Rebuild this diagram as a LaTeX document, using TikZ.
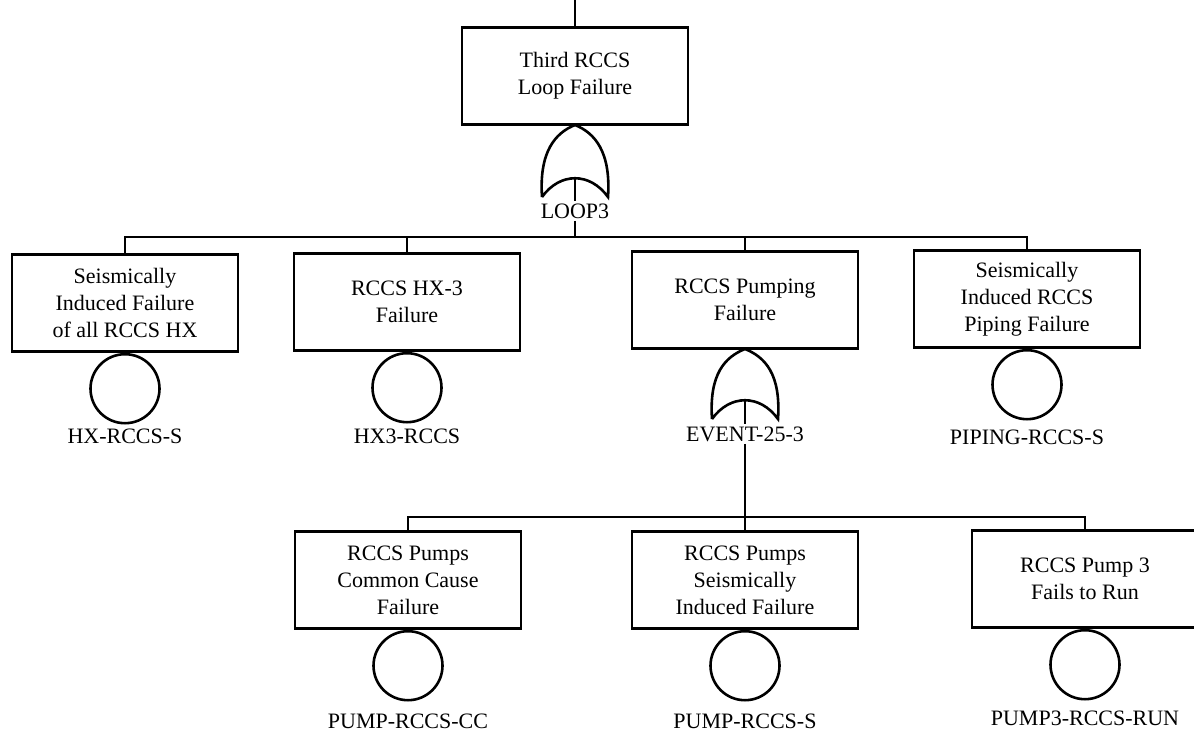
\documentclass[tikz,border=0pt]{standalone}
\usepackage{fontspec}
\setmainfont{Liberation Serif}
\begin{document}
\begin{tikzpicture}[x=1pt,y=-1pt,
  line width=2.8pt,
  evbox/.style={draw, rectangle, line width=2.8pt, minimum width=226pt, minimum height=97pt,
    align=center, font=\fontsize{22}{27}\selectfont, inner sep=0pt},
  basic/.style={draw, circle, line width=2.6pt, minimum size=69pt, inner sep=0pt},
  lbl/.style={font=\fontsize{22}{27}\selectfont, inner sep=1pt, fill=white},
  conn/.style={line width=2.8pt}
]
\useasboundingbox (0,0) rectangle (1194,735);
\clip (0,0) rectangle (1194,735);

% OR gate: apex at (#1,#2), height #3, half width 33
\newcommand{\orgate}[3]{%
  \draw[line width=2.6pt, fill=white] (#1-33,#2+#3) .. controls (#1-36,#2+#3-45) and (#1-20,#2+8) .. (#1,#2)
     .. controls (#1+20,#2+8) and (#1+36,#2+#3-45) .. (#1+33,#2+#3)
     .. controls (#1+15,#2+#3-25) and (#1-15,#2+#3-25) .. (#1-33,#2+#3);
}

% top event
\coordinate (topin) at (575,0);
\node[evbox] (t) at (575,76) {Third RCCS\\Loop Failure};
\draw[conn] (topin) -- (t.north);
\orgate{575}{125}{72}
\coordinate (g1) at (575,179);
\node[lbl] (l1) at (575,211) {LOOP3};
\coordinate (bar1) at (575,237);
\draw[conn] (g1) -- (l1.north);
\draw[conn] (l1.south) -- (bar1);

% first row
\node[evbox] (b1) at (125,303) {Seismically\\Induced Failure\\of all RCCS HX};
\node[evbox] (b2) at (407,302) {RCCS HX-3\\Failure};
\node[evbox] (b3) at (745,300) {RCCS Pumping\\Failure};
\node[evbox] (b4) at (1027,299) {Seismically\\Induced RCCS\\Piping Failure};

\draw[conn] (b1.north) -- (b1.north |- bar1) -- (b4.north |- bar1) -- (b4.north);
\draw[conn] (b2.north) -- (b2.north |- bar1);
\draw[conn] (b3.north) -- (b3.north |- bar1);

\node[basic, anchor=north] (c1) at (b1.south) {};
\node[basic, anchor=north] (c2) at (b2.south) {};
\node[basic, anchor=north] (c4) at (b4.south) {};
\node[lbl] (e1) at (125,436) {HX-RCCS-S};
\node[lbl] (e2) at (407,436) {HX3-RCCS};
\node[lbl] (e4) at (1027,437) {PIPING-RCCS-S};

% second gate
\orgate{745}{349}{70}
\coordinate (g2) at (745,401);
\node[lbl] (l2) at (745,434) {EVENT-25-3};
\coordinate (bar2) at (745,517);
\draw[conn] (g2) -- (l2.north);

% second row
\node[evbox] (d1) at (408,580) {RCCS Pumps\\Common Cause\\Failure};
\node[evbox] (d2) at (745,580) {RCCS Pumps\\Seismically\\Induced Failure};
\node[evbox] (d3) at (1085,579) {RCCS Pump 3\\Fails to Run};

\draw[conn] (l2.south) -- (d2.north);
\draw[conn] (d1.north) -- (d1.north |- bar2) -- (d3.north |- bar2) -- (d3.north);

\node[basic, anchor=north] (c5) at (d1.south) {};
\node[basic, anchor=north] (c6) at (d2.south) {};
\node[basic, anchor=north] (c7) at (d3.south) {};
\node[lbl] (e5) at (408,721) {PUMP-RCCS-CC};
\node[lbl] (e6) at (745,721) {PUMP-RCCS-S};
\node[lbl] (e7) at (1085,718) {PUMP3-RCCS-RUN};
\end{tikzpicture}
\end{document}
